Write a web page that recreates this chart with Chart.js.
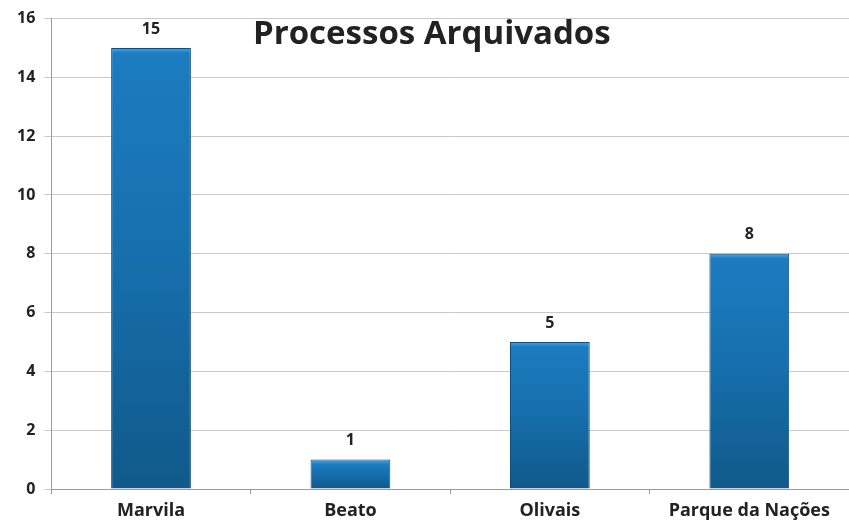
<!DOCTYPE html>
<html>
<head>
<meta charset="utf-8">
<script src="https://cdn.jsdelivr.net/npm/chart.js@4/dist/chart.umd.min.js"></script>
<style>
  html, body { margin: 0; padding: 0; background: #fff; }
  #wrap { width: 849px; height: 524px; }
</style>
</head>
<body>
<div id="wrap"><canvas id="barChart"></canvas></div>
<script>
// Archived processes per parish
const chartTitle = 'Processos Arquivados';
const parishes = ['Marvila', 'Beato', 'Olivais', 'Parque da Nações'];
const archived = [15, 1, 5, 8];
const yTicks = [0, 2, 4, 6, 8, 10, 12, 14, 16];

// vertical gradient per bar, light at the top and dark at the base
function barFill(ctx) {
  const chart = ctx.chart;
  const y = chart.scales.y;
  if (!y || !ctx.parsed) return '#176ca9';
  const top = y.getPixelForValue(ctx.parsed.y);
  const base = y.getPixelForValue(0);
  if (!isFinite(top) || !isFinite(base) || top === base) return '#176ca9';
  const g = chart.ctx.createLinearGradient(0, top, 0, base);
  g.addColorStop(0, '#4aa3e2');
  g.addColorStop(Math.min(0.4, 5 / (base - top)), '#1c7cc0');
  g.addColorStop(0.45, '#1770ae');
  g.addColorStop(1, '#10598a');
  return g;
}

// value labels above bars + title drawn over the plot
const overlayPlugin = {
  id: 'overlay',
  afterDatasetsDraw(chart) {
    const c = chart.ctx;
    const meta = chart.getDatasetMeta(0);
    c.save();
    c.fillStyle = '#222';
    c.font = 'bold 16px "Open Sans", sans-serif';
    c.textAlign = 'center';
    c.textBaseline = 'middle';
    meta.data.forEach((bar, i) => {
      c.fillText(String(archived[i]), bar.x, bar.y - 19);
    });
    const area = chart.chartArea;
    c.font = 'bold 33px "Open Sans", sans-serif';
    c.fillText(chartTitle, area.left + (area.right - area.left) * 0.477, area.top + 16);
    c.restore();
  }
};

const config = {
  type: 'bar',
  data: {
    labels: parishes,
    datasets: [{
      label: chartTitle,
      data: archived,
      backgroundColor: barFill,
      borderColor: '#0d4f7c',
      borderWidth: 1,
      barPercentage: 0.4,
      categoryPercentage: 1.0
    }]
  },
  options: {
    responsive: true,
    maintainAspectRatio: false,
    animation: false,
    layout: { padding: { top: 14, right: 0, bottom: -4, left: 8 } },
    scales: {
      y: {
        min: 0,
        max: 16,
        afterBuildTicks(axis) { axis.ticks = yTicks.map(v => ({ value: v })); },
        grid: { color: '#c9c9c9', tickLength: 7, drawTicks: true },
        border: { color: '#9a9a9a' },
        ticks: {
          color: '#222',
          padding: 9,
          font: { family: '"Open Sans", sans-serif', size: 16, weight: 'bold' }
        }
      },
      x: {
        grid: { display: true, drawOnChartArea: false, offset: true, tickLength: 5, color: '#9a9a9a' },
        border: { color: '#9a9a9a' },
        ticks: {
          color: '#222',
          padding: 8,
          font: { family: '"Open Sans", sans-serif', size: 18, weight: 'bold', lineHeight: 1 }
        }
      }
    },
    plugins: {
      legend: { display: false },
      tooltip: { enabled: false }
    }
  },
  plugins: [overlayPlugin]
};

const ctx1 = document.getElementById('barChart').getContext('2d');
const myBarChart = new Chart(ctx1, config);
</script>
</body>
</html>
